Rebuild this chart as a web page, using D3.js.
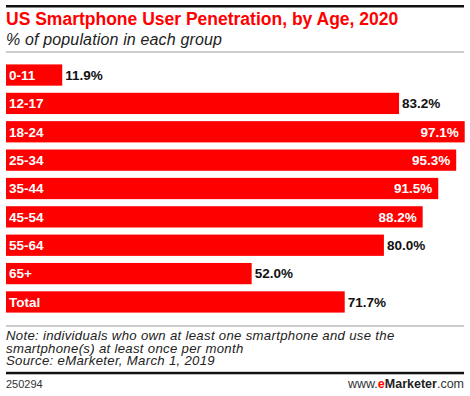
<!DOCTYPE html>
<html><head><meta charset="utf-8">
<script src="https://cdn.jsdelivr.net/npm/d3@7"></script>
<style>body{margin:0;background:#fff;} svg{display:block;font-family:"Liberation Sans",Arial,sans-serif;}</style>
</head><body>
<svg id="c" width="470" height="396"></svg>
<script>
const categories = ["0-11","12-17","18-24","25-34","35-44","45-54","55-64","65+","Total"];
const values = [11.9,83.2,97.1,95.3,91.5,88.2,80.0,52.0,71.7];
const title = "US Smartphone User Penetration, by Age, 2020";
const subtitle = "% of population in each group";
const noteLines = ["Note: individuals who own at least one smartphone and use the","smartphone(s) at least once per month","Source: eMarketer, March 1, 2019"];
const chartId = "250294";

const svg = d3.select("#c");
const red = "#ff0000";

svg.append("rect").attr("x",6).attr("y",5).attr("width",458).attr("height",2.5).attr("fill","#111");
svg.append("text").attr("x",6).attr("y",25).attr("fill",red).attr("font-weight","bold").attr("font-size",17.5).text(title);
svg.append("text").attr("x",6).attr("y",44.5).attr("fill","#222").attr("font-style","italic").attr("font-size",16).attr("letter-spacing",0.15).text(subtitle);
svg.append("rect").attr("x",6).attr("y",51.5).attr("width",458).attr("height",1).attr("fill","#999");

const x = d3.scaleLinear().domain([0,97.1]).range([6,464.7]);
const y = d3.scaleBand().domain(categories).range([61,316]).paddingInner(0.25).paddingOuter(0.12);

const rows = svg.append("g").selectAll("g").data(categories.map((c,i)=>({c,v:values[i]}))).join("g");
rows.append("rect").attr("x",x(0)).attr("y",d=>y(d.c)).attr("width",d=>x(d.v)-x(0)).attr("height",y.bandwidth()).attr("fill",red);
rows.append("text").attr("x",x(0)+3).attr("y",d=>y(d.c)+y.bandwidth()/2).attr("dy","0.36em")
  .attr("fill","#fff").attr("font-weight","bold").attr("font-size",13.5).text(d=>d.c);
rows.append("text")
  .attr("x",d=>d.v>85 ? x(d.v)-6 : x(d.v)+3)
  .attr("y",d=>y(d.c)+y.bandwidth()/2).attr("dy","0.36em")
  .attr("text-anchor",d=>d.v>85?"end":"start")
  .attr("fill",d=>d.v>85?"#fff":"#111").attr("font-weight","bold").attr("font-size",13.5)
  .text(d=>d3.format(".1f")(d.v)+"%");

svg.append("rect").attr("x",6).attr("y",325.5).attr("width",458).attr("height",1).attr("fill","#999");
svg.append("g").selectAll("text").data(noteLines).join("text")
  .attr("x",6).attr("y",(d,i)=>339.8+i*12.8).attr("fill","#222").attr("font-style","italic").attr("font-size",13.2).attr("letter-spacing",0.3).text(d=>d);
svg.append("rect").attr("x",6).attr("y",371.8).attr("width",458).attr("height",2.5).attr("fill","#111");
svg.append("text").attr("x",6).attr("y",388).attr("fill","#333").attr("font-size",11).text(chartId);
const ft = svg.append("text").attr("x",464).attr("y",388).attr("text-anchor","end").attr("fill","#333").attr("font-size",12.5);
ft.append("tspan").text("www.");
ft.append("tspan").attr("fill",red).attr("font-weight","bold").text("e");
ft.append("tspan").attr("font-weight","bold").attr("fill","#222").text("Marketer");
ft.append("tspan").text(".com");
</script>
</body></html>
